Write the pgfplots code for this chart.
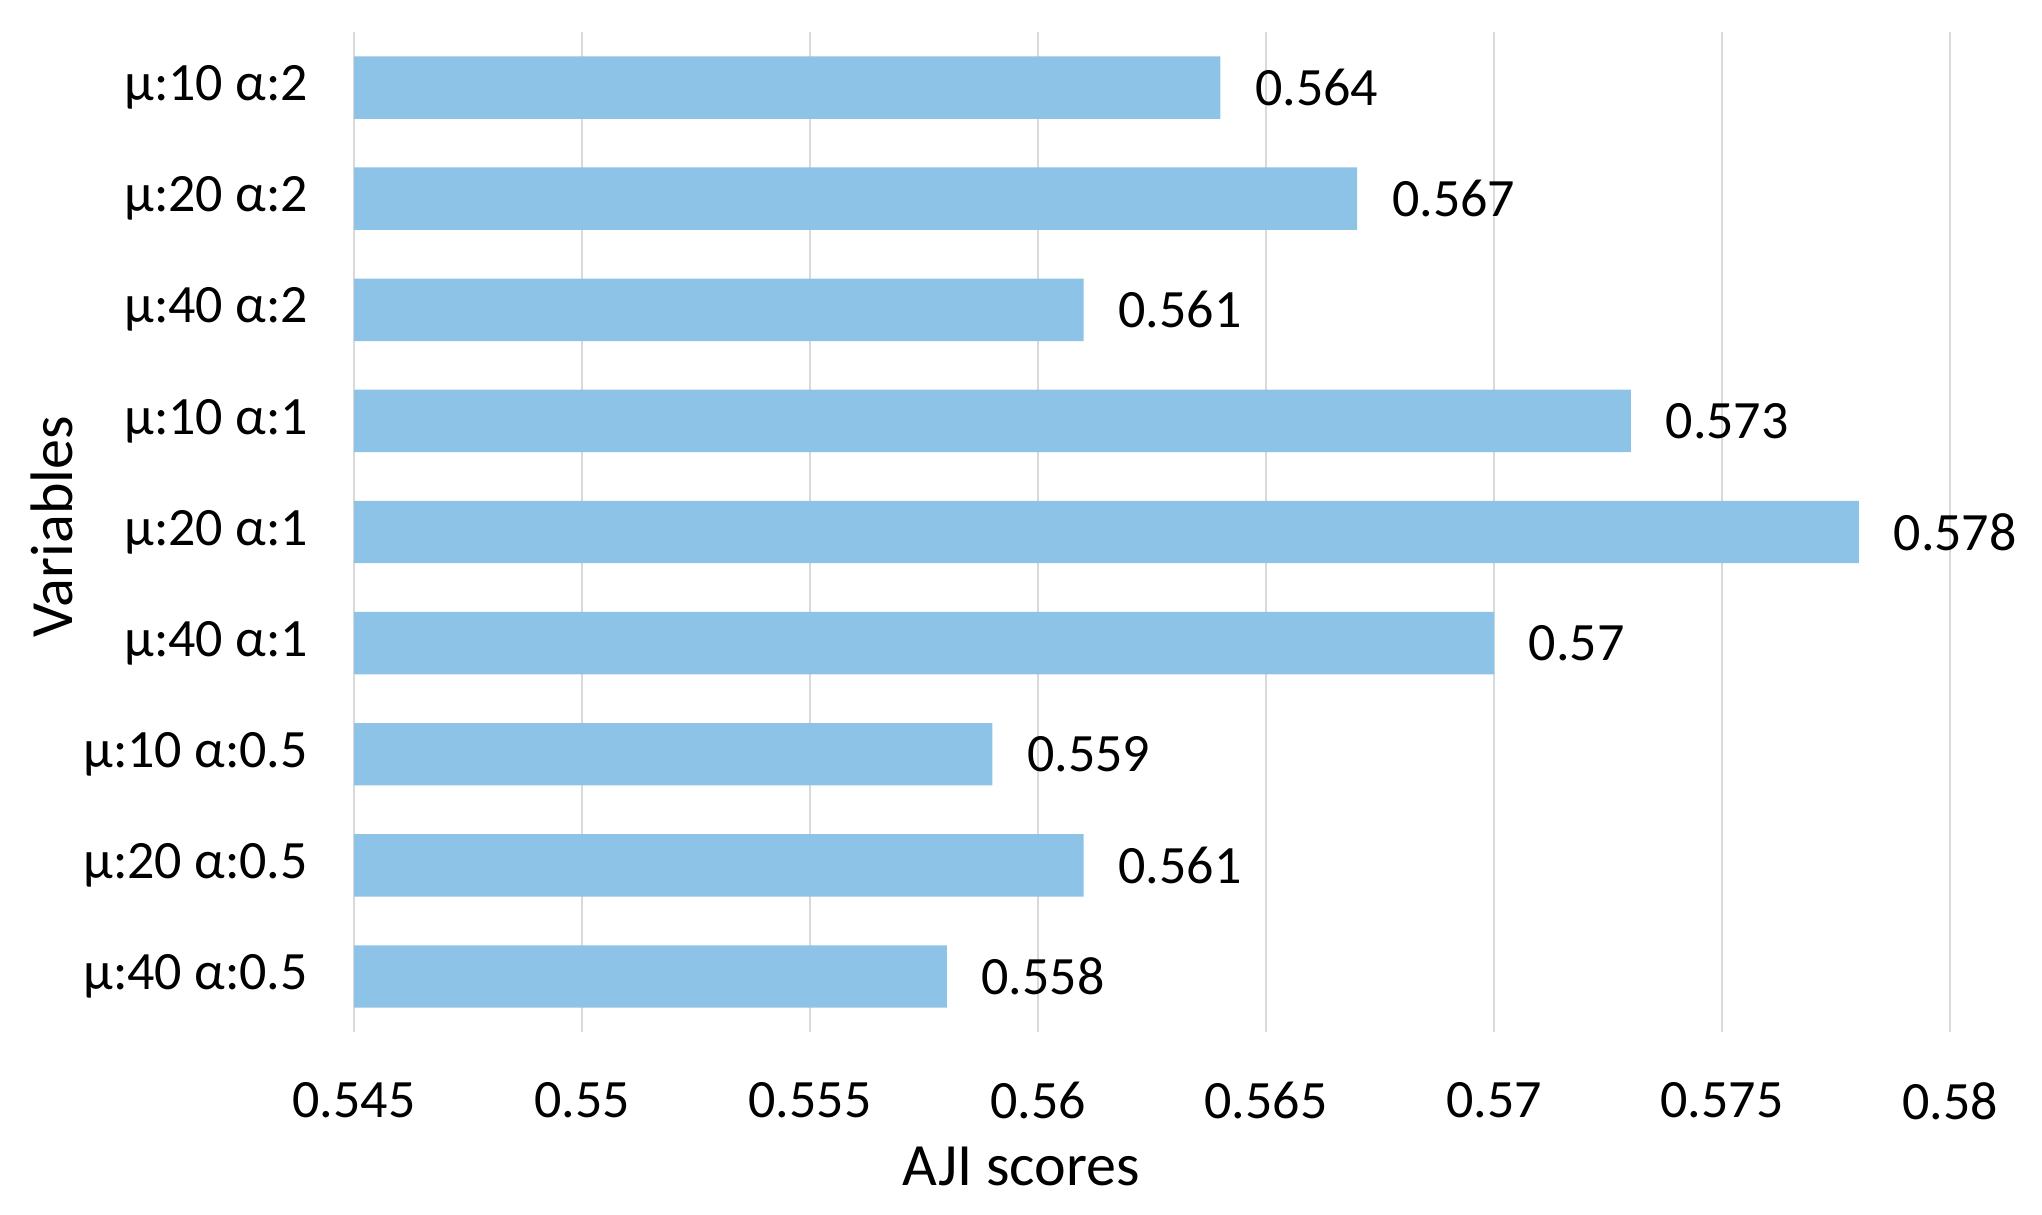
\documentclass[border=0pt]{standalone}
\usepackage{fontspec}
\setmainfont{Carlito}
\usepackage{pgfplots}
\pgfplotsset{compat=1.18}
\definecolor{barblue}{RGB}{141,195,230}
\definecolor{gridgray}{RGB}{217,217,217}

% bottom to top: y = 0 ... 8
\pgfplotstableread{
x     y  label
0.558 0  0.558
0.561 1  0.561
0.559 2  0.559
0.570 3  0.57
0.578 4  0.578
0.573 5  0.573
0.561 6  0.561
0.567 7  0.567
0.564 8  0.564
}\ajidata

\begin{document}
\begin{tikzpicture}
\begin{axis}[
    scale only axis,
    width=399pt, height=250pt,
    xbar, bar width=15.6pt,
    xmin=0.545, xmax=0.58,
    ymin=-0.5, ymax=8.5,
    xtick={0.545,0.55,0.555,0.56,0.565,0.57,0.575,0.58},
    xticklabels={0.545,0.55,0.555,0.56,0.565,0.57,0.575,0.58},
    ytick={0,...,8},
    yticklabels={μ:40 α:0.5, μ:20 α:0.5, μ:10 α:0.5, μ:40 α:1, μ:20 α:1, μ:10 α:1, μ:40 α:2, μ:20 α:2, μ:10 α:2},
    major tick length=0pt,
    axis line style={draw=none},
    xmajorgrids,
    grid style={gridgray, line width=0.7pt},
    font=\fontsize{13.5}{16}\selectfont,
    xticklabel style={yshift=-9pt},
    yticklabel style={xshift=-8pt},
    xlabel={AJI scores},
    ylabel={Variables},
    label style={font=\fontsize{15}{18}\selectfont},
    xlabel style={at={([yshift=-33.5pt]axis description cs:0.418,0)}, anchor=center},
    ylabel style={at={([xshift=-75.5pt]axis description cs:0,0.505)}, anchor=center},
    nodes near coords,
    point meta=explicit symbolic,
    every node near coord/.append style={anchor=west, inner sep=0pt, xshift=8.5pt, black, font=\fontsize{13.5}{16}\selectfont},
    clip mode=individual,
]
\addplot[draw=none, fill=barblue] table[x=x, y=y, meta=label] {\ajidata};
\end{axis}
\pgfresetboundingbox
\path[use as bounding box] (current axis.south west) ++(-88.5pt,-45.5pt) rectangle ++(510.5pt,303.5pt);
\end{tikzpicture}
\end{document}
